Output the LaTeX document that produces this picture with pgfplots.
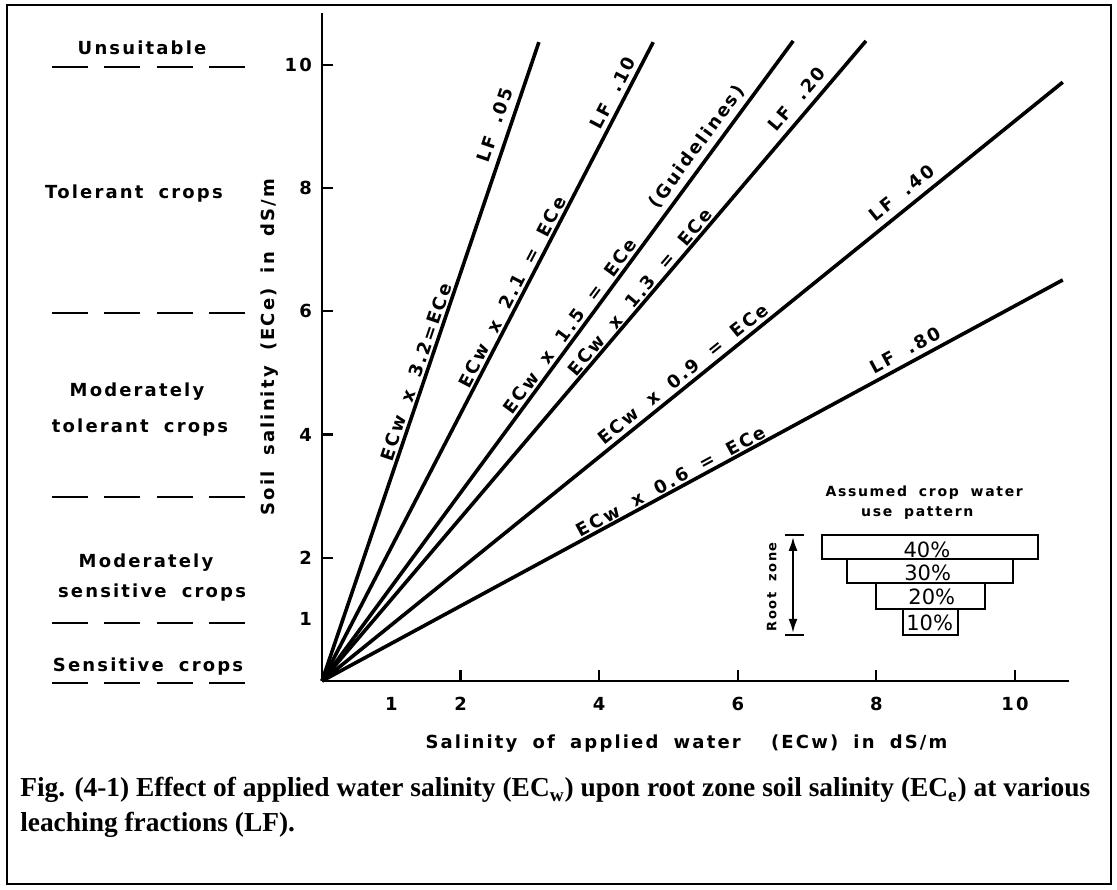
\documentclass[border=0pt]{standalone}
\usepackage{fontspec}
\setmainfont{Liberation Serif}
\newfontfamily\lab[LetterSpace=12, WordSpace=1.8]{DejaVu Sans}
\newfontfamily\pct{DejaVu Sans}
\usepackage{pgfplots}
\pgfplotsset{compat=1.18}
\usetikzlibrary{arrows.meta}
\newcommand{\lf}{\lab\bfseries\fontsize{9}{10}\selectfont}
\begin{document}
\begin{tikzpicture}
\useasboundingbox (-161pt,-104pt) rectangle (397.5pt,340.5pt);
\draw[line width=1.2pt] (-157.5pt,-101.5pt) rectangle (394.5pt,338pt);
\begin{axis}[
  at={(0pt,0pt)}, anchor=south west,
  scale only axis, width=373.5pt, height=333.9pt,
  xmin=0, xmax=10.78, ymin=0, ymax=10.84,
  axis lines=left, axis line style={-, line width=1.2pt},
  xtick={2,4,6,8,10}, ytick={2,4,6,8,10},
  extra x ticks={1}, extra y ticks={1},
  extra tick style={major tick length=0pt},
  tick align=inside, major tick length=5.5pt,
  tick style={line width=1.1pt, black},
  ticklabel style={font=\lf},
  /pgf/number format/assume math mode=true,
  xticklabel style={yshift=-4.5pt},
  yticklabel style={xshift=-1.5pt},
  clip=false,
]
% lines ECe = k * ECw
\addplot[line width=1.8pt] coordinates {(0,0) (3.13,10.37)};
\addplot[line width=1.8pt] coordinates {(0,0) (4.78,10.37)};
\addplot[line width=1.8pt] coordinates {(0,0) (6.80,10.39)};
\addplot[line width=1.8pt] coordinates {(0,0) (7.85,10.39)};
\addplot[line width=1.8pt] coordinates {(0,0) (10.69,9.72)};
\addplot[line width=1.8pt] coordinates {(0,0) (10.69,6.51)};
% line labels
\node[font=\lf, rotate=71.25] at (axis cs:1.356,5.016) {ECw x 3.2=ECe};
\node[font=\lf, rotate=71.25] at (axis cs:2.496,9.026) {LF .05};
\node[font=\lf, rotate=62.59] at (axis cs:2.742,6.315) {ECw x 2.1 = ECe};
\node[font=\lf, rotate=62.59] at (axis cs:4.199,9.545) {LF .10};
\node[font=\lf, rotate=53.64] at (axis cs:3.579,5.763) {ECw x 1.5 = ECe};
\node[font=\lf, rotate=53.64] at (axis cs:5.411,8.669) {(Guidelines)};
\node[font=\lf, rotate=49.65] at (axis cs:4.589,6.315) {ECw x 1.3 = ECe};
\node[font=\lf, rotate=49.65] at (axis cs:6.854,9.448) {LF .20};
\node[font=\lf, rotate=38.94] at (axis cs:5.209,4.984) {ECw x 0.9 = ECe};
\node[font=\lf, rotate=38.94] at (axis cs:8.369,7.922) {LF .40};
\node[font=\lf, rotate=28.43] at (axis cs:5.036,3.247) {ECw x 0.6 = ECe};
\node[font=\lf, rotate=28.43] at (axis cs:8.413,5.373) {LF .80};
% axis labels
\node[font=\lf, rotate=90] at (axis cs:-0.75,5.42) {Soil salinity (ECe) in dS/m};
\node[font=\lf] at (axis cs:5.26,-1.02) {Salinity of applied water \ (ECw) in dS/m};
% left categories
\pgfplotsinvokeforeach{9.97,5.97,2.99,0.94,-0.03}{
  \draw[line width=1.2pt, dash pattern=on 18pt off 8.2pt] (axis cs:-3.896,#1) -- (axis cs:-1.111,#1);
}
\node[font=\lf] at (axis cs:-2.597,10.28) {Unsuitable};
\node[font=\lf] at (axis cs:-2.713,7.92) {Tolerant crops};
\node[font=\lf] at (axis cs:-2.67,4.69) {Moderately};
\node[font=\lf] at (axis cs:-2.626,4.12) {tolerant crops};
\node[font=\lf] at (axis cs:-2.54,1.92) {Moderately};
\node[font=\lf] at (axis cs:-2.453,1.43) {sensitive crops};
\node[font=\lf] at (axis cs:-2.51,0.24) {Sensitive crops};
% inset
\node[font=\lab\bfseries\fontsize{7}{8}\selectfont] at (axis cs:8.69,3.05) {Assumed crop water};
\node[font=\lab\bfseries\fontsize{7}{8}\selectfont] at (axis cs:8.59,2.73) {use pattern};
\draw[line width=1pt] (axis cs:7.215,1.98) rectangle (axis cs:10.33,2.37);
\draw[line width=1pt] (axis cs:7.576,1.59) -- (axis cs:7.576,1.98) -- (axis cs:9.971,1.98) -- (axis cs:9.971,1.59) -- cycle;
\draw[line width=1pt] (axis cs:7.994,1.169) -- (axis cs:7.994,1.59) -- (axis cs:9.567,1.59) -- (axis cs:9.567,1.169) -- cycle;
\draw[line width=1pt] (axis cs:8.384,0.747) -- (axis cs:8.384,1.169) -- (axis cs:9.177,1.169) -- (axis cs:9.177,0.747) -- cycle;
\node[font=\pct\fontsize{10.5}{11}\selectfont] at (axis cs:8.73,2.13) {40\%};
\node[font=\pct\fontsize{10.5}{11}\selectfont] at (axis cs:8.74,1.75) {30\%};
\node[font=\pct\fontsize{10.5}{11}\selectfont] at (axis cs:8.80,1.36) {20\%};
\node[font=\pct\fontsize{10.5}{11}\selectfont] at (axis cs:8.77,0.94) {10\%};
\draw[line width=1.1pt, {Latex[length=7pt,width=4.5pt]}-{Latex[length=7pt,width=4.5pt]}] (axis cs:6.797,2.34) -- (axis cs:6.797,0.78);
\draw[line width=1.1pt] (axis cs:6.68,2.37) -- (axis cs:6.95,2.37);
\draw[line width=1.1pt] (axis cs:6.68,0.747) -- (axis cs:6.96,0.747);
\node[font=\lab\bfseries\fontsize{6.5}{7}\selectfont, rotate=90] at (axis cs:6.49,1.53) {Root zone};
% caption
\node[anchor=north west, inner sep=0pt, text width=535pt, align=justify,
      font=\bfseries\fontsize{13.7}{17.5}\selectfont] at (axis cs:-4.36,-1.56)
  {Fig. (4-1) Effect of applied water salinity (EC\textsubscript{w}) upon root zone soil salinity (EC\textsubscript{e}) at various\linebreak leaching fractions (LF).};
\end{axis}
\end{tikzpicture}
\end{document}
